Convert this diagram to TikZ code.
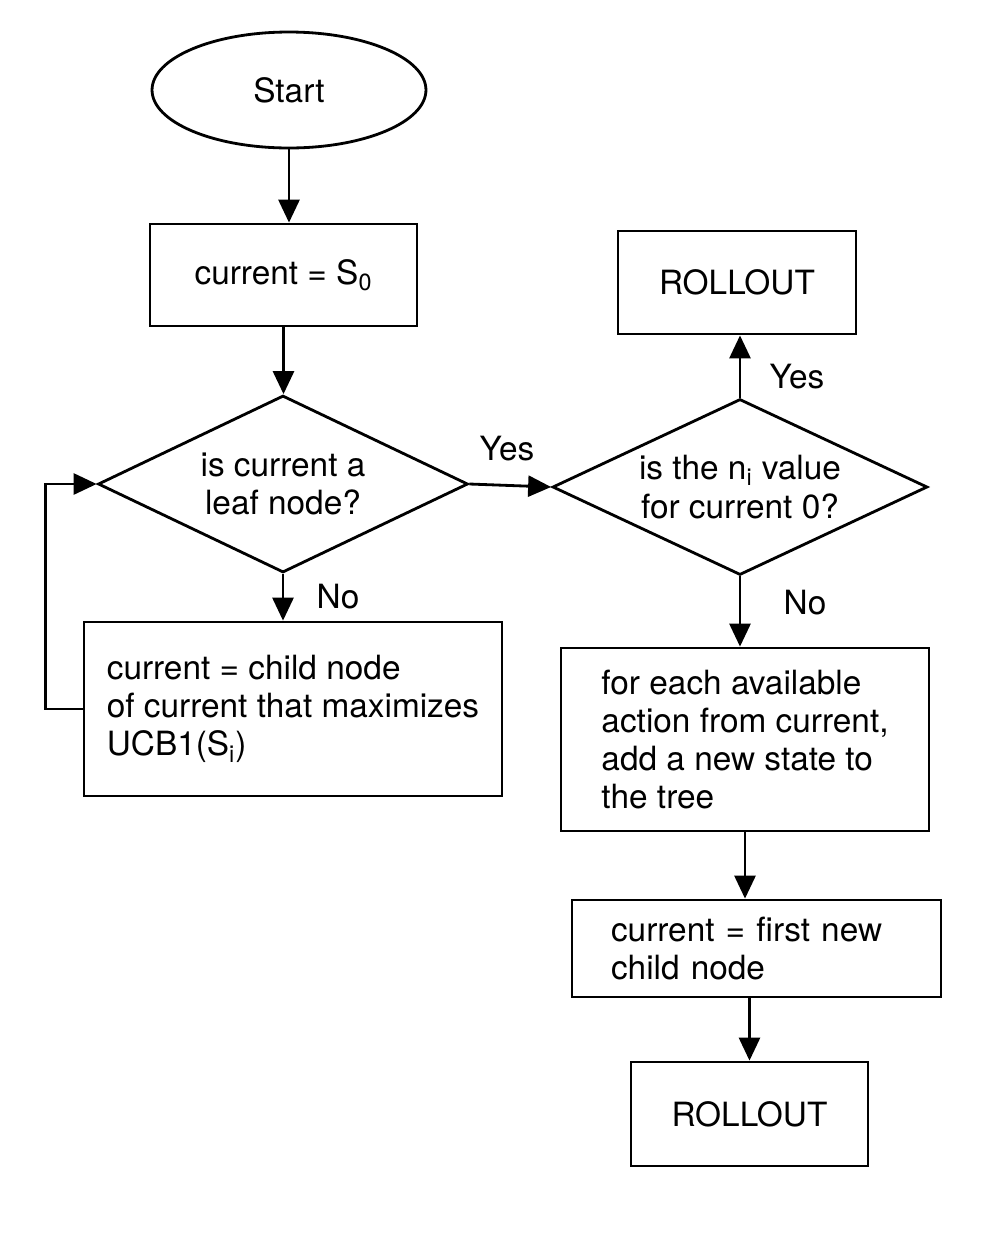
\documentclass[tikz,border=0pt]{standalone}
\usepackage{fontspec}
\setmainfont{TeX Gyre Heros}
\usetikzlibrary{shapes.geometric,arrows.meta}
\begin{document}
\begin{tikzpicture}[x=0.02cm,y=-0.02cm,
  every node/.style={font=\fontsize{19}{21.8}\selectfont},
  box/.style={draw,line width=1.6pt,rectangle,inner sep=0pt,align=left},
  choice/.style={draw,line width=1.6pt,diamond,aspect=2.1,inner sep=0pt,align=center},
  arr/.style={line width=1.6pt,-{Triangle[length=0.46cm,width=0.42cm]}}]
\useasboundingbox (0,0) rectangle (985,1235);
\node[draw,line width=1.6pt,ellipse,minimum width=5.48cm,minimum height=2.32cm] (start) at (289,90) {Start};
\node[box,minimum width=5.34cm,minimum height=2.04cm] (init) at (283.5,275) {current = S\textsubscript{0}};
\node[choice,minimum width=7.4cm,minimum height=3.54cm] (leaf) at (283,484) {is current a\\leaf node?};
\node[box,minimum width=8.36cm,minimum height=3.48cm] (child) at (293,709) {current = child node\\of current that maximizes\\UCB1(S\textsubscript{i})};
\node[choice,minimum width=7.5cm,minimum height=3.52cm] (visited) at (740,487) {is the n\textsubscript{i} value\\for current 0?};
\node[box,minimum width=4.76cm,minimum height=2.06cm] (rollouttop) at (737,282.5) {ROLLOUT};
\node[box,minimum width=7.36cm,minimum height=3.66cm] (expand) at (745,739.5) {for each available\\action from current,\\add a new state to\\the tree};
\node[box,minimum width=7.38cm,minimum height=1.94cm,inner xsep=0.78cm,text width=5.82cm] (firstchild) at (756.5,948.5) {current = first new\\child node};
\node[box,minimum width=4.74cm,minimum height=2.08cm] (rolloutbottom) at (749.5,1114) {ROLLOUT};
\node (yesleaf) at (507,449) {Yes};
\node (noleaf) at (338,597) {No};
\node (yesvisited) at (797,377) {Yes};
\node (novisited) at (805,603) {No};
\draw[arr] (start.south) -- (start.south |- init.north);
\draw[arr] (init.south) -- (init.south |- leaf.north);
\draw[arr] (leaf.south) -- (leaf.south |- child.north);
\draw[arr] (child.west) -- ++(-37,0) |- (leaf.west);
\draw[arr] (leaf.east) -- (visited.west);
\draw[arr] (visited.north) -- (visited.north |- rollouttop.south);
\draw[arr] (visited.south) -- (visited.south |- expand.north);
\draw[arr] (expand.south) -- (expand.south |- firstchild.north);
\draw[arr] (rolloutbottom.north |- firstchild.south) -- (rolloutbottom.north);
\end{tikzpicture}
\end{document}
